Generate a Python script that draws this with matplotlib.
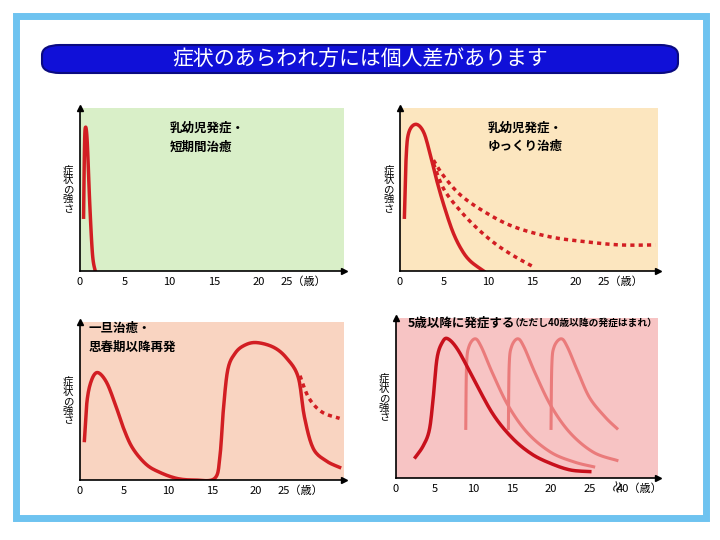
import matplotlib.pyplot as plt
import numpy as np
from matplotlib.patches import FancyBboxPatch, Rectangle

plt.rcParams['font.family'] = 'Noto Sans CJK JP'

title = "症状のあらわれ方には個人差があります"
ylab = "症状の強さ"
xt = [0, 5, 10, 15, 20, 25]

# curves (age, strength 0..1)
tl_x = [0.4, 0.5, 0.6, 0.8, 1.1, 1.4, 1.7]
tl_y = [0.33, 0.75, 0.88, 0.8, 0.4, 0.1, 0.0]

tr_x = [0.5, 0.7, 1.0, 1.8, 2.7, 3.5, 4.2, 5.0, 6.0, 7.0, 8.0, 9.5]
tr_y = [0.33, 0.7, 0.85, 0.9, 0.85, 0.7, 0.55, 0.4, 0.24, 0.13, 0.06, 0.0]
trd1_x = [3.8, 5.0, 7.0, 9.0, 11.0, 13.0, 15.0]
trd1_y = [0.66, 0.5, 0.36, 0.25, 0.16, 0.09, 0.03]
trd2_x = [3.8, 5.0, 7.0, 10.0, 13.0, 17.0, 21.0, 25.0, 29.0]
trd2_y = [0.68, 0.58, 0.46, 0.35, 0.27, 0.21, 0.18, 0.16, 0.16]

bl_x = [0.5, 0.8, 1.3, 2.0, 3.0, 4.0, 5.0, 6.0, 7.5, 9.0, 11.0, 13.0, 15.3, 15.9, 16.3, 16.8, 17.6, 18.6, 20.0, 22.0, 23.5, 24.8, 25.5, 26.5, 28.0, 29.5]
bl_y = [0.25, 0.5, 0.63, 0.68, 0.62, 0.48, 0.32, 0.2, 0.1, 0.05, 0.01, 0.0, 0.01, 0.15, 0.45, 0.7, 0.8, 0.85, 0.87, 0.84, 0.77, 0.65, 0.4, 0.2, 0.12, 0.08]
bld_x = [25.0, 26.0, 27.5, 29.5]
bld_y = [0.66, 0.52, 0.43, 0.39]

br_x = [2.5, 3.5, 4.3, 4.8, 5.3, 6.0, 6.7, 8.0, 10.0, 12.5, 15.0, 17.5, 20.0, 22.5, 25.0]
br_y = [0.13, 0.2, 0.3, 0.5, 0.75, 0.85, 0.87, 0.8, 0.62, 0.4, 0.25, 0.15, 0.09, 0.05, 0.04]
br_l = [
    ([9.0, 9.1, 9.4, 10.2, 11.0, 12.5, 14.5, 17.0, 20.0, 23.0, 25.5],
     [0.31, 0.7, 0.82, 0.87, 0.82, 0.65, 0.45, 0.28, 0.16, 0.1, 0.07]),
    ([14.5, 14.6, 14.9, 15.7, 16.5, 18.0, 20.0, 22.5, 25.5, 28.5],
     [0.31, 0.7, 0.82, 0.87, 0.82, 0.65, 0.45, 0.28, 0.16, 0.11]),
    ([20.0, 20.1, 20.4, 21.3, 22.1, 23.5, 25.0, 27.0, 28.5],
     [0.31, 0.7, 0.82, 0.87, 0.82, 0.66, 0.5, 0.38, 0.31]),
]


def smooth(x, y, n=12):
    x = np.asarray(x, float); y = np.asarray(y, float)
    P = np.column_stack([x, y])
    P = np.vstack([P[0], P, P[-1]])
    out = []
    t = np.linspace(0, 1, n, endpoint=False)[:, None]
    for i in range(1, len(P) - 2):
        p0, p1, p2, p3 = P[i - 1], P[i], P[i + 1], P[i + 2]
        c = 0.5 * ((2 * p1) + (-p0 + p2) * t + (2 * p0 - 5 * p1 + 4 * p2 - p3) * t ** 2
                   + (-p0 + 3 * p1 - 3 * p2 + p3) * t ** 3)
        out.append(c)
    out.append(P[-2][None, :])
    o = np.vstack(out)
    return o[:, 0], o[:, 1]


RED = '#d21e23'
LRED = '#ea7b7b'

fig = plt.figure(figsize=(7.2, 5.4), dpi=100)
fig.patches.append(Rectangle((16 / 720, 1 - 518 / 540), 690 / 720, 502 / 540, transform=fig.transFigure,
                             fill=False, ec='#6ec3f0', lw=5))
fig.patches.append(FancyBboxPatch((42 / 720, 1 - 73 / 540), 636 / 720, 28 / 540,
                                  boxstyle='round,pad=0,rounding_size=0.025', transform=fig.transFigure,
                                  fc='#1010d8', ec='#0a0a80', lw=1.5, mutation_aspect=0.75))
fig.text(0.5, 1 - 59 / 540, title, color='white', fontsize=15, ha='center', va='center')


def mk(x0, y0, x1, y1, bg, xmax, ticks, labels):
    ax = fig.add_axes([x0 / 720, 1 - y1 / 540, (x1 - x0) / 720, (y1 - y0) / 540])
    ax.set_facecolor(bg)
    ax.set_xlim(0, xmax)
    ax.set_ylim(0, 1)
    for s in ['top', 'right']:
        ax.spines[s].set_visible(False)
    for s in ['left', 'bottom']:
        ax.spines[s].set_linewidth(1.2)
    ax.set_yticks([])
    ax.set_xticks(ticks)
    ax.set_xticklabels(labels, fontsize=8)
    ax.tick_params(axis='x', length=0, pad=4)
    ax.plot(1, 0, '>k', ms=4, transform=ax.transAxes, clip_on=False)
    ax.plot(0, 1, '^k', ms=4, transform=ax.transAxes, clip_on=False)
    ax.text(-0.045, 0.5, '\n'.join(ylab), transform=ax.transAxes, fontsize=7.5,
            ha='center', va='center', linespacing=0.95)
    return ax


lab = [str(v) for v in xt[:-1]] + ['25（歳）']
a1 = mk(80, 108, 344, 271, '#d9efc8', 29.5, xt, lab)
a1.plot(*smooth(tl_x, tl_y), color=RED, lw=2.5)
a1.text(10, 0.82, '乳幼児発症・\n短期間治癒', fontsize=9, fontweight='bold', linespacing=1.6, va='center')

a2 = mk(400, 108, 658, 271, '#fce6bf', 29.3, xt, lab)
a2.plot(*smooth(tr_x, tr_y), color=RED, lw=2.5)
for xs, ys in [(trd1_x, trd1_y), (trd2_x, trd2_y)]:
    a2.plot(*smooth(xs, ys), color=RED, lw=2.5, ls=(0, (1.2, 1.2)))
a2.text(10, 0.82, '乳幼児発症・\nゆっくり治癒', fontsize=9, fontweight='bold', linespacing=1.6, va='center')

a3 = mk(80, 322, 344, 480, '#f9d4c1', 30, xt, lab)
a3.plot(*smooth(bl_x, bl_y), color=RED, lw=2.5)
a3.plot(*smooth(bld_x, bld_y), color=RED, lw=2.5, ls=(0, (1.2, 1.2)))
a3.text(1, 0.9, '一旦治癒・\n思春期以降再発', fontsize=9, fontweight='bold', linespacing=1.6, va='center')

a4 = mk(396, 318, 658, 478, '#f7c4c4', 33.8, xt + [31.5], [str(v) for v in xt] + ['40（歳）'])
for xs, ys in br_l:
    a4.plot(*smooth(xs, ys), color=LRED, lw=2.2)
a4.plot(*smooth(br_x, br_y), color='#c8101c', lw=2.5)
a4.text(28.6, -0.05, '≈', rotation=70, fontsize=10, ha='center', va='center', clip_on=False)
a4.text(1.5, 0.97, '5歳以降に発症する', fontsize=9, fontweight='bold', va='center')
a4.text(14.7, 0.97, '（ただし40歳以降の発症はまれ）', fontsize=7, fontweight='bold', va='center')

fig.savefig('out.png', dpi=100)
